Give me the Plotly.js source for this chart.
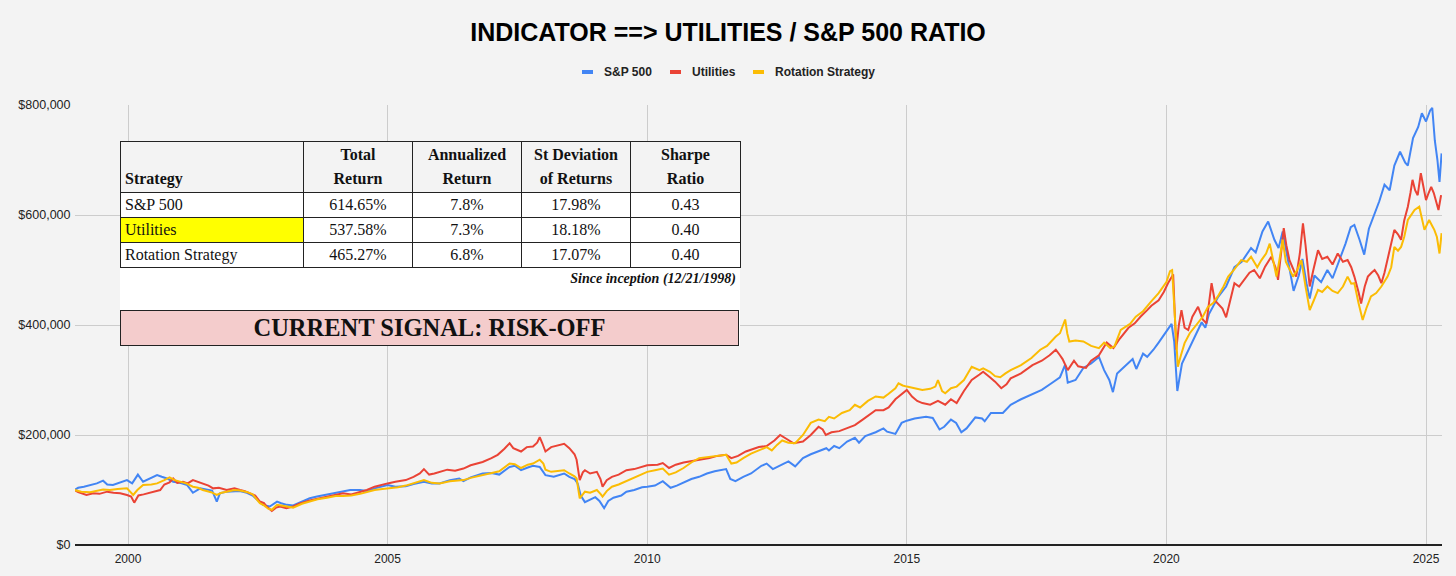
<!DOCTYPE html>
<html>
<head>
<meta charset="utf-8">
<script src="https://cdn.plot.ly/plotly-3.0.1.min.js"></script>
<style>
  html, body { margin: 0; padding: 0; background: #f3f3f3; }
  #wrap { position: relative; width: 1456px; height: 576px; }
  #chart { position: absolute; left: 0; top: 0; width: 1456px; height: 576px; }
  #panel { position: absolute; left: 120px; top: 141px; width: 620px; height: 205px; background: #ffffff; font-family: "Liberation Serif", "DejaVu Serif", serif; color: #111; }
  #panel table { border-collapse: collapse; table-layout: fixed; position: absolute; left: 0; top: 0; width: 620px; }
  #panel td { border: 1px solid #222; font-size: 16px; padding: 0 4px; height: 24px; line-height: 18px; text-align: center; white-space: nowrap; overflow: hidden; }
  #panel tr.hd td { background: #f3f3f3; font-weight: bold; height: 49px; vertical-align: bottom; line-height: 24px; padding-bottom: 1px; }
  #panel td.l { text-align: left; }
  #panel td.yel { background: #ffff00; }
  #since { position: absolute; right: 4px; top: 130px; font-size: 14px; font-weight: bold; font-style: italic; }
  #signal { position: absolute; left: 0; top: 169px; width: 617px; height: 34px; background: #f4cccc; border: 1px solid #222; text-align: center; font-size: 24.5px; font-weight: bold; line-height: 34px; }
</style>
</head>
<body>
<div id="wrap">
  <div id="chart"></div>
  <div id="panel">
    <table>
      <colgroup><col style="width:183px"><col style="width:109px"><col style="width:109px"><col style="width:109px"><col style="width:110px"></colgroup>
      <tr class="hd"><td class="l">Strategy</td><td>Total<br>Return</td><td>Annualized<br>Return</td><td>St Deviation<br>of Returns</td><td>Sharpe<br>Ratio</td></tr>
      <tr><td class="l">S&amp;P 500</td><td>614.65%</td><td>7.8%</td><td>17.98%</td><td>0.43</td></tr>
      <tr><td class="l yel">Utilities</td><td>537.58%</td><td>7.3%</td><td>18.18%</td><td>0.40</td></tr>
      <tr><td class="l">Rotation Strategy</td><td>465.27%</td><td>6.8%</td><td>17.07%</td><td>0.40</td></tr>
    </table>
    <div id="since">Since inception (12/21/1998)</div>
    <div id="signal">CURRENT SIGNAL: RISK-OFF</div>
  </div>
</div>
<script>
// ---- Data (x = decimal year, values in thousands of dollars) ----
const seriesNames = ["S&P 500", "Utilities", "Rotation Strategy"];

const spX = [1998.97,1999.04,1999.15,1999.27,1999.4,1999.52,1999.6,1999.71,1999.85,1999.98,2000.08,2000.19,2000.29,2000.4,2000.56,2000.65,2000.75,2000.87,2001.0,2001.14,2001.25,2001.39,2001.5,2001.62,2001.71,2001.77,2001.9,2002.02,2002.15,2002.29,2002.4,2002.48,2002.6,2002.73,2002.87,2002.95,2003.06,2003.18,2003.37,2003.5,2003.64,2003.8,2003.95,2004.1,2004.28,2004.47,2004.6,2004.75,2004.9,2005.0,2005.15,2005.35,2005.5,2005.7,2005.85,2006.0,2006.2,2006.38,2006.46,2006.6,2006.83,2007.0,2007.15,2007.35,2007.45,2007.57,2007.7,2007.8,2007.93,2008.04,2008.2,2008.3,2008.4,2008.5,2008.6,2008.66,2008.72,2008.8,2008.88,2009.0,2009.08,2009.17,2009.25,2009.35,2009.5,2009.6,2009.75,2009.9,2010.0,2010.15,2010.3,2010.45,2010.57,2010.7,2010.85,2011.0,2011.15,2011.3,2011.45,2011.52,2011.6,2011.7,2011.85,2012.0,2012.2,2012.3,2012.42,2012.6,2012.72,2012.85,2013.0,2013.15,2013.3,2013.45,2013.5,2013.6,2013.7,2013.85,2014.0,2014.08,2014.2,2014.4,2014.55,2014.62,2014.78,2014.9,2015.0,2015.15,2015.37,2015.5,2015.63,2015.72,2015.85,2015.95,2016.05,2016.15,2016.32,2016.45,2016.5,2016.62,2016.85,2017.0,2017.2,2017.42,2017.6,2017.8,2017.95,2018.05,2018.1,2018.25,2018.4,2018.55,2018.7,2018.8,2018.9,2018.97,2019.05,2019.2,2019.35,2019.42,2019.55,2019.63,2019.75,2019.85,2020.0,2020.1,2020.15,2020.21,2020.3,2020.4,2020.55,2020.68,2020.75,2020.82,2020.99,2021.15,2021.31,2021.45,2021.63,2021.72,2021.85,2021.96,2022.08,2022.16,2022.24,2022.35,2022.45,2022.55,2022.62,2022.7,2022.76,2022.85,2022.98,2023.1,2023.2,2023.3,2023.45,2023.55,2023.62,2023.72,2023.81,2023.9,2024.0,2024.1,2024.2,2024.3,2024.39,2024.5,2024.6,2024.65,2024.75,2024.85,2024.92,2025.0,2025.08,2025.12,2025.17,2025.22,2025.26,2025.3];
const spK = [100,104,106,109,112,117,110,109,114,118,112,128,115,120,127,124,121,115,113,109,95,103,101,99,79,94,97,97,98,95,90,83,73,70,79,76,73,72,79,85,88,91,94,98,100,100,98,103,107,109,106,107,111,115,112,112,118,121,116,123,130,131,128,142,144,136,141,144,142,127,124,127,130,124,120,112,90,78,82,87,80,67,80,86,90,97,100,105,106,108,116,104,108,114,120,124,130,134,136,138,120,116,124,130,144,148,138,147,152,143,158,165,170,176,172,180,176,188,195,186,198,205,212,206,202,222,226,230,233,231,210,215,228,222,205,212,232,230,225,240,240,255,265,275,282,295,305,328,295,300,322,330,342,318,300,278,312,325,338,320,348,342,355,368,388,402,370,280,330,350,380,405,395,420,450,470,505,515,540,532,570,588,555,540,570,515,462,490,520,475,448,490,478,500,485,510,548,578,582,555,528,575,600,625,655,645,690,715,695,690,740,760,785,770,790,795,735,700,660,712];

const utX = [1998.97,1999.04,1999.2,1999.33,1999.45,1999.6,1999.72,1999.85,1999.98,2000.06,2000.12,2000.2,2000.3,2000.42,2000.52,2000.62,2000.7,2000.8,2000.87,2000.95,2001.06,2001.15,2001.25,2001.35,2001.44,2001.55,2001.64,2001.75,2001.9,2002.05,2002.16,2002.25,2002.35,2002.45,2002.54,2002.62,2002.67,2002.77,2002.85,2002.93,2003.05,2003.18,2003.3,2003.5,2003.65,2003.83,2004.0,2004.14,2004.3,2004.47,2004.6,2004.75,2004.9,2005.0,2005.15,2005.35,2005.5,2005.62,2005.7,2005.8,2005.9,2006.0,2006.15,2006.3,2006.46,2006.6,2006.7,2006.83,2007.0,2007.12,2007.25,2007.35,2007.42,2007.5,2007.57,2007.68,2007.8,2007.88,2007.93,2007.98,2008.04,2008.15,2008.3,2008.4,2008.5,2008.6,2008.64,2008.7,2008.76,2008.8,2008.9,2009.03,2009.1,2009.14,2009.22,2009.32,2009.45,2009.6,2009.75,2009.9,2010.0,2010.2,2010.3,2010.42,2010.55,2010.7,2010.85,2011.0,2011.2,2011.35,2011.52,2011.62,2011.75,2011.9,2012.0,2012.15,2012.3,2012.45,2012.56,2012.7,2012.82,2013.0,2013.15,2013.3,2013.38,2013.44,2013.55,2013.7,2013.85,2014.0,2014.15,2014.3,2014.4,2014.55,2014.65,2014.78,2014.9,2015.0,2015.1,2015.2,2015.3,2015.45,2015.6,2015.74,2015.85,2015.96,2016.1,2016.25,2016.4,2016.47,2016.6,2016.7,2016.82,2016.92,2017.0,2017.2,2017.42,2017.6,2017.75,2017.87,2017.95,2018.0,2018.1,2018.22,2018.3,2018.45,2018.55,2018.7,2018.85,2018.98,2019.1,2019.27,2019.39,2019.5,2019.63,2019.71,2019.85,2019.95,2020.03,2020.13,2020.19,2020.24,2020.29,2020.35,2020.42,2020.5,2020.61,2020.7,2020.77,2020.87,2020.93,2020.99,2021.08,2021.15,2021.25,2021.31,2021.4,2021.5,2021.6,2021.69,2021.8,2021.9,2022.02,2022.1,2022.15,2022.22,2022.26,2022.31,2022.37,2022.45,2022.5,2022.57,2022.63,2022.68,2022.76,2022.83,2022.92,2023.0,2023.1,2023.2,2023.3,2023.4,2023.49,2023.56,2023.62,2023.7,2023.75,2023.82,2023.88,2023.95,2024.01,2024.08,2024.14,2024.2,2024.26,2024.33,2024.39,2024.46,2024.52,2024.58,2024.65,2024.7,2024.74,2024.79,2024.84,2024.9,2024.95,2025.0,2025.05,2025.1,2025.15,2025.19,2025.24,2025.29];
const utK = [100,96,91,94,93,97,95,94,91,88,77,90,92,95,97,100,110,114,121,113,115,112,118,115,112,108,103,104,100,103,100,98,94,90,79,76,70,62,68,70,67,70,75,81,84,88,92,94,92,96,100,106,110,112,115,118,124,130,138,128,130,133,137,135,139,145,148,151,158,164,175,185,176,172,170,178,179,186,196,185,170,178,182,184,176,165,155,118,132,136,130,133,120,106,118,124,128,136,138,142,145,146,149,140,146,150,152,155,158,162,164,158,162,170,173,178,180,190,200,192,185,188,200,215,210,200,205,207,212,218,228,238,245,245,250,265,275,282,270,262,258,255,262,255,265,258,280,300,310,315,305,297,285,292,303,312,327,335,345,355,345,338,318,335,325,322,335,345,368,358,375,395,403,415,427,435,445,460,476,492,355,400,427,395,391,415,433,410,403,476,445,439,430,414,450,476,470,482,495,500,485,506,524,505,482,540,576,545,518,500,488,530,585,545,470,500,536,520,524,510,530,515,518,505,488,460,439,470,488,495,500,490,476,495,518,545,573,565,555,590,615,640,664,645,636,676,650,627,640,651,640,627,609,636];

const rsX = [1998.97,1999.1,1999.27,1999.4,1999.52,1999.65,1999.8,1999.98,2000.1,2000.18,2000.29,2000.45,2000.56,2000.7,2000.8,2000.9,2001.0,2001.12,2001.25,2001.35,2001.44,2001.6,2001.71,2001.8,2001.9,2002.05,2002.16,2002.3,2002.4,2002.54,2002.62,2002.7,2002.77,2002.87,2002.95,2003.08,2003.18,2003.35,2003.5,2003.65,2003.83,2004.0,2004.14,2004.3,2004.47,2004.6,2004.75,2004.9,2005.0,2005.2,2005.35,2005.5,2005.7,2005.85,2006.0,2006.2,2006.35,2006.46,2006.6,2006.83,2007.0,2007.15,2007.35,2007.45,2007.57,2007.7,2007.8,2007.93,2008.0,2008.04,2008.15,2008.3,2008.4,2008.5,2008.6,2008.64,2008.7,2008.76,2008.8,2008.9,2009.03,2009.1,2009.14,2009.22,2009.32,2009.45,2009.6,2009.75,2009.9,2010.0,2010.15,2010.3,2010.42,2010.55,2010.7,2010.85,2011.0,2011.15,2011.35,2011.52,2011.62,2011.72,2011.85,2012.0,2012.15,2012.3,2012.4,2012.5,2012.6,2012.72,2012.85,2013.0,2013.15,2013.3,2013.42,2013.5,2013.6,2013.75,2013.9,2014.0,2014.1,2014.25,2014.4,2014.55,2014.65,2014.78,2014.84,2014.92,2015.0,2015.15,2015.3,2015.45,2015.55,2015.6,2015.68,2015.74,2015.85,2015.96,2016.1,2016.25,2016.4,2016.47,2016.6,2016.7,2016.8,2016.9,2017.0,2017.2,2017.4,2017.57,2017.7,2017.87,2017.95,2018.05,2018.09,2018.13,2018.25,2018.4,2018.55,2018.7,2018.8,2018.92,2019.0,2019.12,2019.3,2019.41,2019.55,2019.7,2019.85,2020.0,2020.07,2020.11,2020.16,2020.22,2020.28,2020.35,2020.45,2020.61,2020.7,2020.8,2020.9,2020.99,2021.1,2021.19,2021.3,2021.44,2021.55,2021.63,2021.75,2021.83,2021.92,2021.99,2022.05,2022.12,2022.18,2022.24,2022.3,2022.37,2022.44,2022.52,2022.6,2022.68,2022.76,2022.84,2022.92,2023.0,2023.1,2023.2,2023.3,2023.4,2023.49,2023.56,2023.62,2023.7,2023.78,2023.85,2023.94,2024.04,2024.14,2024.26,2024.33,2024.39,2024.46,2024.52,2024.58,2024.65,2024.72,2024.78,2024.87,2024.93,2024.97,2025.03,2025.06,2025.12,2025.16,2025.21,2025.26,2025.3];
const rsK = [100,97,96,99,101,100,102,103,91,100,109,110,112,118,123,118,115,112,106,104,100,96,91,95,97,100,99,96,92,76,72,66,64,73,72,70,68,75,79,83,86,89,89,90,93,96,100,102,103,105,108,112,118,113,112,116,117,118,122,127,131,134,148,147,140,146,148,155,148,137,133,134,136,130,125,121,85,92,97,95,100,93,88,98,106,110,116,122,128,133,136,139,128,132,140,150,158,160,163,164,148,150,158,166,172,178,172,182,190,186,185,200,222,228,225,233,230,240,245,255,250,262,270,268,275,285,294,290,288,285,282,284,288,300,280,276,285,288,300,324,318,321,315,307,305,312,318,327,340,355,362,379,385,410,385,370,372,370,362,358,368,358,361,391,402,415,425,442,458,478,498,500,420,324,345,367,385,403,415,433,440,452,470,488,500,518,515,524,505,518,530,548,520,488,520,555,515,500,488,500,518,470,427,445,464,460,470,462,458,470,488,475,476,440,409,430,452,458,470,488,505,542,535,542,560,591,600,609,615,590,573,585,591,580,573,560,530,567];

const xTickYears = [2000, 2005, 2010, 2015, 2020, 2025];
const yTickValues = [0, 200000, 400000, 600000, 800000];
const yTickLabels = ["$0", "$200,000", "$400,000", "$600,000", "$800,000"];
const seriesColors = ["#4285f4", "#ea4335", "#fbbc04"];

// ---- Layout geometry ----
const W = 1456, H = 576;
const M = { l: 75, r: 14, t: 105, b: 31 };
const pw = W - M.l - M.r, ph = H - M.t - M.b;
const px = v => (v - M.l) / pw;          // pixel -> paper x
const py = v => (H - M.b - v) / ph;      // pixel -> paper y

const toDollars = a => a.map(v => v * 1000);
const xs = [spX, utX, rsX];
const ys = [spK, utK, rsK];

const traces = seriesNames.map((name, i) => ({
  type: "scatter",
  mode: "lines",
  name: name,
  x: xs[i],
  y: toDollars(ys[i]),
  line: { color: seriesColors[i], width: 2 },
  hoverinfo: "skip",
  showlegend: false
}));

// custom legend (short bars + bold labels)
const legendItems = [
  { name: seriesNames[0], color: seriesColors[0], sx: 582, tx: 602 },
  { name: seriesNames[1], color: seriesColors[1], sx: 670, tx: 690 },
  { name: seriesNames[2], color: seriesColors[2], sx: 753, tx: 773 }
];
const shapes = legendItems.map(it => ({
  type: "rect", xref: "paper", yref: "paper",
  x0: px(it.sx), x1: px(it.sx + 11), y0: py(74), y1: py(70),
  fillcolor: it.color, line: { width: 0 }
}));
const annotations = legendItems.map(it => ({
  xref: "paper", yref: "paper", x: px(it.tx), y: py(72),
  xanchor: "left", yanchor: "middle", showarrow: false,
  text: it.name,
  font: { family: "Liberation Sans, Arial, sans-serif", size: 12, color: "#222", weight: "bold" }
}));

const layout = {
  width: W, height: H,
  margin: M,
  paper_bgcolor: "#f3f3f3",
  plot_bgcolor: "#f3f3f3",
  showlegend: false,
  title: {
    text: "INDICATOR ==> UTILITIES / S&P 500 RATIO",
    x: 0.5, xanchor: "center", xref: "container",
    y: 1 - 32 / H, yanchor: "middle", yref: "container",
    font: { family: "Liberation Sans, Arial, sans-serif", size: 25, color: "#000", weight: "bold" }
  },
  xaxis: {
    range: [1998.979, 2025.308],
    tickvals: xTickYears,
    ticktext: xTickYears.map(String),
    showgrid: true, gridcolor: "#cccccc", gridwidth: 1,
    zeroline: false, showline: false, ticks: "outside", ticklen: 3, tickcolor: "rgba(0,0,0,0)",
    tickfont: { family: "Liberation Sans, Arial, sans-serif", size: 12, color: "#222" },
    fixedrange: true
  },
  yaxis: {
    range: [0, 800000],
    tickvals: yTickValues,
    ticktext: yTickLabels,
    showgrid: true, gridcolor: "#cccccc", gridwidth: 1,
    zeroline: true, zerolinecolor: "#222", zerolinewidth: 2,
    showline: false, ticks: "outside", ticklen: 1, tickcolor: "rgba(0,0,0,0)",
    tickfont: { family: "Liberation Sans, Arial, sans-serif", size: 12.5, color: "#222" },
    fixedrange: true
  },
  shapes: shapes,
  annotations: annotations
};

Plotly.newPlot("chart", traces, layout, { displayModeBar: false, staticPlot: true });
</script>
</body>
</html>
